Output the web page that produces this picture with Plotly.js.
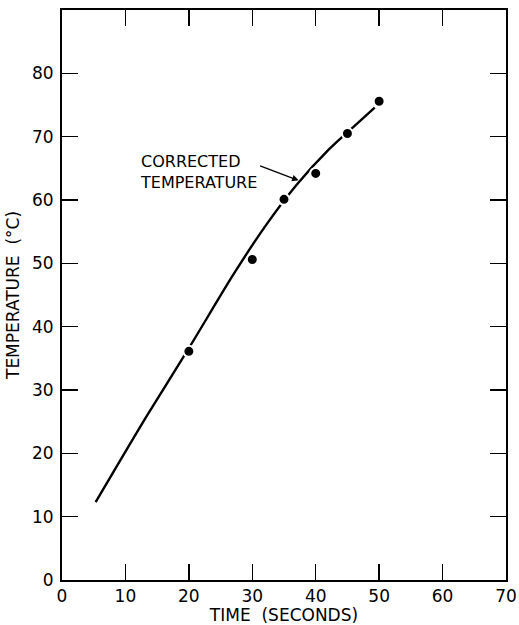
<!DOCTYPE html>
<html>
<head>
<meta charset="utf-8">
<script src="https://cdn.plot.ly/plotly-3.0.1.min.js"></script>
<style>html,body{margin:0;padding:0;background:#fff;}#chart{width:519px;height:625px;}</style>
</head>
<body>
<div id="chart"></div>
<script>
// Measured data points
const timeSec = [20, 30, 35, 40, 45, 50];
const tempC = [36.1, 50.6, 60.1, 64.2, 70.5, 75.6];

// Corrected temperature curve
const curveTime = [5.3, 13.3, 20, 27, 32, 37, 42, 46, 49.3];
const curveTemp = [12.3, 25.8, 36.6, 48.2, 55.8, 62.4, 67.9, 71.6, 74.6];

const xTicks = [0, 10, 20, 30, 40, 50, 60, 70];
const yTicks = [0, 10, 20, 30, 40, 50, 60, 70, 80];

const FONT = "DejaVu Sans, Liberation Sans, sans-serif";

const traces = [
  {
    x: curveTime, y: curveTemp, mode: 'lines', type: 'scatter',
    line: {color: '#000', width: 2.4, shape: 'spline', smoothing: 0.7},
    hoverinfo: 'skip', showlegend: false
  },
  {
    x: timeSec, y: tempC, mode: 'markers', type: 'scatter',
    marker: {color: '#000', size: 11, line: {color: '#fff', width: 2}},
    showlegend: false
  }
];

const axisCommon = {
  showgrid: false, zeroline: false, showline: true, linecolor: '#000', linewidth: 2,
  mirror: 'ticks', ticks: 'inside', ticklen: 16, tickwidth: 1.5, tickcolor: '#000',
  tickfont: {family: FONT, size: 17, color: '#000'}
};

const layout = {
  width: 519, height: 625,
  margin: {l: 62, r: 13, t: 10, b: 45},
  paper_bgcolor: '#fff', plot_bgcolor: '#fff',
  xaxis: Object.assign({}, axisCommon, {
    range: [0, 70], tickvals: xTicks, ticktext: xTicks.map(String),
    title: {text: 'TIME  (SECONDS)', font: {family: FONT, size: 17, color: '#000'}, standoff: 4}
  }),
  yaxis: Object.assign({}, axisCommon, {
    range: [0, 90], tickvals: yTicks, ticktext: yTicks.map(String), ticklabelstandoff: 3,
    title: {text: 'TEMPERATURE  (°C)', font: {family: FONT, size: 17, color: '#000'}, standoff: 8}
  }),
  annotations: [
    {
      x: 12.0, y: 64.4, xref: 'x', yref: 'y', xanchor: 'left', yanchor: 'middle',
      text: 'CORRECTED<br>TEMPERATURE', showarrow: false, align: 'left',
      font: {family: FONT, size: 16, color: '#000'}
    },
    {
      x: 37.3, y: 63.1, xref: 'x', yref: 'y', ax: -40, ay: -15, text: '',
      showarrow: true, arrowhead: 2, arrowsize: 1, arrowwidth: 1.3, arrowcolor: '#000'
    }
  ]
};

Plotly.newPlot('chart', traces, layout, {displayModeBar: false, staticPlot: true});
</script>
</body>
</html>
